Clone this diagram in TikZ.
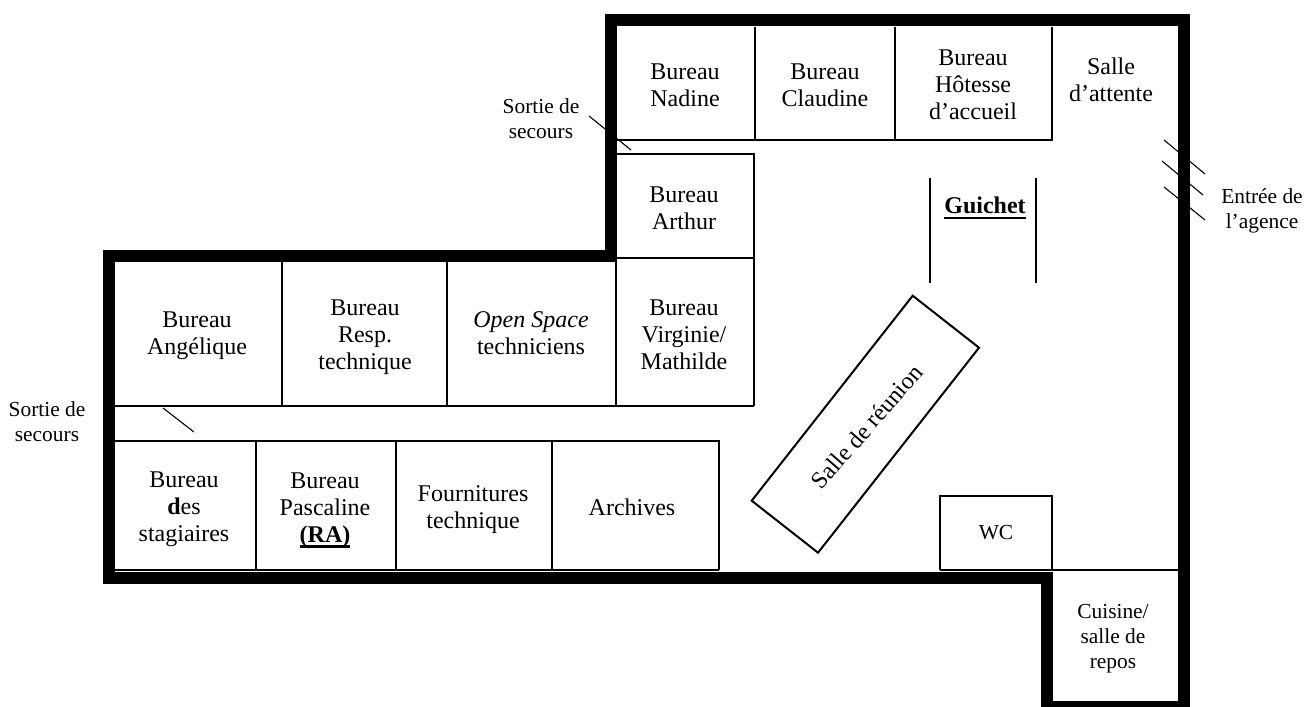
\documentclass[tikz,border=0pt]{standalone}
\usepackage{fontspec}
\setmainfont{Liberation Serif}

\newcommand{\heavyul}[1]{\setbox0\hbox{#1}\leavevmode\rlap{\rule[-2.7pt]{\wd0}{1.1pt}}\box0}

\begin{document}
\begin{tikzpicture}[x=0.5pt, y=-0.5pt, line join=miter]
    \tikzstyle{wall}=[draw=black, line width=6pt]
    \tikzstyle{partition}=[draw=black, line width=1pt]
    \tikzstyle{stroke}=[draw=black, line width=0.55pt]
    \tikzstyle{room}=[align=center, font=\fontsize{12}{13.5}\selectfont, inner sep=0pt]
    \tikzstyle{note}=[align=center, font=\fontsize{10.7}{12.5}\selectfont, inner sep=0pt]

    \useasboundingbox (0,0) rectangle (1305,706);

    % --- WALLS ---
    \draw[wall] (611,20.5) -- (1184,20.5) -- (1184,707) -- (1047,707) -- (1047,577.5)
        -- (109,577.5) -- (109,256) -- (611,256) -- cycle;

    % --- PARTITIONS ---
    % Top row
    \draw[partition] (617,140) -- (1052,140) -- (1052,27);
    \draw[partition] (755,27) -- (755,140);
    \draw[partition] (895,27) -- (895,141);

    % Arthur and Virginie
    \draw[partition] (617,153.5) -- (754,153.5) -- (754,406);
    \draw[partition] (616,258) -- (754,258);

    % Upper block
    \draw[partition] (115,406) -- (754,406);
    \draw[partition] (282,262) -- (282,406);
    \draw[partition] (447,262) -- (447,406);
    \draw[partition] (616,258) -- (616,406);

    % Lower block
    \draw[partition] (115,441) -- (719,441) -- (719,570);
    \draw[partition] (256,441) -- (256,570);
    \draw[partition] (395.5,441) -- (395.5,570);
    \draw[partition] (552,441) -- (552,570);
    \draw[partition] (115,570) -- (719,570);

    % WC and kitchen
    \draw[partition] (940,570) -- (940,496) -- (1052,496) -- (1052,570);
    \draw[partition] (940,570) -- (1178,570);

    % Meeting room
    \draw[partition] (912.7,295.7) -- (979,347.7) -- (818,552.7) -- (751.7,500.7) -- cycle;

    % --- DOORS AND COUNTER ---
    \draw[stroke] (589,116) -- (631,150);
    \draw[stroke] (163,408) -- (194,432);
    \draw[stroke] (1164,140) -- (1205,174);
    \draw[stroke] (1162,161) -- (1203,195);
    \draw[stroke] (1164,187) -- (1205,220);
    \draw[stroke] (930,178) -- (930,283);
    \draw[stroke] (1036,178) -- (1036,283);

    % --- LABELS ---
    \node[room] (nadine) at (685,85) {Bureau\\Nadine};
    \node[room] (claudine) at (825,85) {Bureau\\Claudine};
    \node[room] (hotesse) at (973,85) {Bureau\\Hôtesse\\d’accueil};
    \node[room] (attente) at (1111,79.5) {Salle\\d’attente};
    \node[room] (arthur) at (684,208) {Bureau\\Arthur};
    \node[room] (virginie) at (684,335) {Bureau\\Virginie/\\Mathilde};
    \node[room] (openspace) at (531,333.5) {\textit{Open Space}\\techniciens};
    \node[room] (technique) at (365,337) {Bureau\\Resp.\\technique};
    \node[room] (angelique) at (197,336) {Bureau\\Angélique};
    \node[room] (stagiaires) at (184,509) {Bureau\\\textbf{d}es\\stagiaires};
    \node[room] (pascaline) at (325,510) {Bureau\\Pascaline\\\heavyul{\textbf{(RA)}}};
    \node[room] (fournitures) at (473,510) {Fournitures\\technique};
    \node[room] (archives) at (632,507) {Archives};
    \node[room] (guichet) at (985,208) {\heavyul{\textbf{Guichet}}};
    \node[room, rotate=49] (reunion) at (866.7,426.7) {Salle de réunion};

    \node[note] (wc) at (996,533) {WC};
    \node[note] (cuisine) at (1113,639) {Cuisine/\\salle de\\repos};
    \node[note] (sortiehaut) at (541,119) {Sortie de\\secours};
    \node[note] (sortiebas) at (47,422) {Sortie de\\secours};
    \node[note] (entree) at (1262,211) {Entrée de\\l’agence};

\end{tikzpicture}
\end{document}
